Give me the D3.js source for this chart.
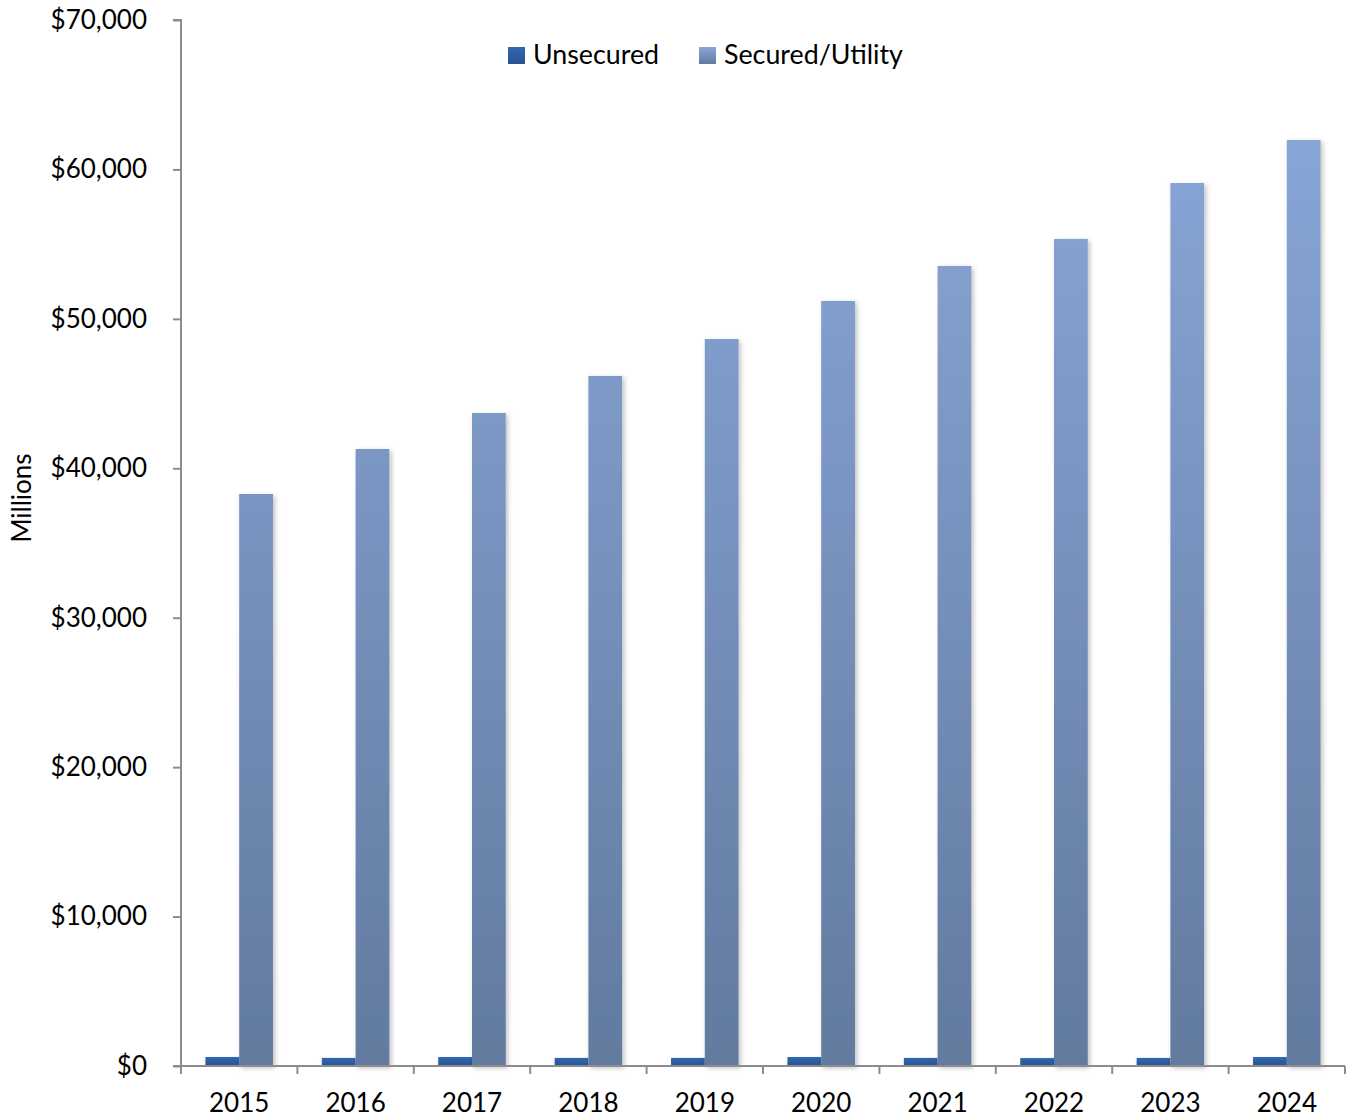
<!DOCTYPE html>
<html><head><meta charset="utf-8">
<script src="https://cdn.jsdelivr.net/npm/d3@7"></script>
<style>body{margin:0;background:#fff;} svg{display:block;font-family:Lato,"Open Sans",sans-serif;} svg text{font-family:Lato,"Open Sans",sans-serif;}</style>
</head><body>
<script>
const years = ["2015","2016","2017","2018","2019","2020","2021","2022","2023","2024"];
const unsecured = [600,540,600,540,540,600,540,530,540,600];
const secured = [38280,41290,43700,46180,48650,51200,53540,55350,59090,61970];
const yTicks = [0,10000,20000,30000,40000,50000,60000,70000];
const seriesNames = ["Unsecured","Secured/Utility"];

const W=1350,H=1120;
const m={l:181,r:1345,t:20,b:1066};
const FS=26;
const svg=d3.select("body").append("svg").attr("width",W).attr("height",H);
const defs=svg.append("defs");
const g1=defs.append("linearGradient").attr("id","gU").attr("x1",0).attr("x2",0).attr("y1",0).attr("y2",1);
g1.append("stop").attr("offset","0%").attr("stop-color","#3068b0");
g1.append("stop").attr("offset","100%").attr("stop-color","#285390");
const g2=defs.append("linearGradient").attr("id","gS").attr("x1",0).attr("x2",0).attr("gradientUnits","userSpaceOnUse").attr("y1",m.t+80).attr("y2",m.b);
g2.append("stop").attr("offset","0%").attr("stop-color","#89a7d8");
g2.append("stop").attr("offset","100%").attr("stop-color","#627a9f");
const g3=defs.append("linearGradient").attr("id","gSL").attr("x1",0).attr("x2",0).attr("y1",0).attr("y2",1);
g3.append("stop").attr("offset","0%").attr("stop-color","#89a7d8");
g3.append("stop").attr("offset","100%").attr("stop-color","#627a9f");
const f=defs.append("filter").attr("id","sh").attr("x","-20%").attr("y","-5%").attr("width","150%").attr("height","115%");
f.append("feDropShadow").attr("dx",2).attr("dy",2).attr("stdDeviation",2.5).attr("flood-color","#000").attr("flood-opacity",0.25);

const x=d3.scaleBand().domain(years).range([m.l,m.r]);
const y=d3.scaleLinear().domain([0,70000]).range([m.b,m.t]);
const bw=x.bandwidth()*0.29;

const bars=svg.append("g");
years.forEach((yr,i)=>{
  const cx=x(yr)+x.bandwidth()/2;
  bars.append("rect").attr("x",cx-bw).attr("width",bw).attr("y",y(unsecured[i])).attr("height",y(0)-y(unsecured[i])).attr("fill","url(#gU)").attr("filter","url(#sh)");
  bars.append("rect").attr("x",cx).attr("width",bw).attr("y",y(secured[i])).attr("height",y(0)-y(secured[i])).attr("fill","url(#gS)").attr("filter","url(#sh)");
});

const fmt=d=>"$"+d3.format(",")(d);
const ya=svg.append("g").attr("transform",`translate(${m.l},0)`).call(d3.axisLeft(y).tickValues(yTicks).tickFormat(fmt).tickSize(8).tickPadding(8));
ya.attr("font-family",null).attr("font-size",null);
ya.selectAll("path,line").attr("stroke","#8c8c8c").attr("stroke-width",2);
ya.selectAll("text").attr("font-size",FS).attr("fill","#000").attr("dx",-18);
ya.select(".domain").attr("d",`M${-8},${m.t}H0V${m.b}`);

const xa=svg.append("g").attr("transform",`translate(0,${m.b})`).call(d3.axisBottom(x).tickSize(0).tickPadding(28));
xa.attr("font-family",null).attr("font-size",null);
xa.selectAll("text").attr("font-size",FS).attr("fill","#000");
xa.select(".domain").attr("stroke","#8c8c8c").attr("stroke-width",2).attr("d",`M${m.l-8},0H${m.r}`);
const tpos=years.map(d=>x(d)).concat([m.r]);
xa.selectAll(".tk").data(tpos).enter().append("line").attr("x1",d=>d).attr("x2",d=>d).attr("y1",0).attr("y2",8).attr("stroke","#8c8c8c").attr("stroke-width",2);

svg.append("text").attr("transform","translate(31,498) rotate(-90)").attr("text-anchor","middle").attr("font-size",FS).text("Millions");

const leg=svg.append("g");
const lx=[508,699];
seriesNames.forEach((n,i)=>{
  leg.append("rect").attr("x",lx[i]).attr("y",47).attr("width",17).attr("height",17).attr("fill",i==0?"url(#gU)":"url(#gSL)");
  leg.append("text").attr("x",lx[i]+25).attr("y",64).attr("font-size",26.8).text(n);
});
</script>
</body></html>
